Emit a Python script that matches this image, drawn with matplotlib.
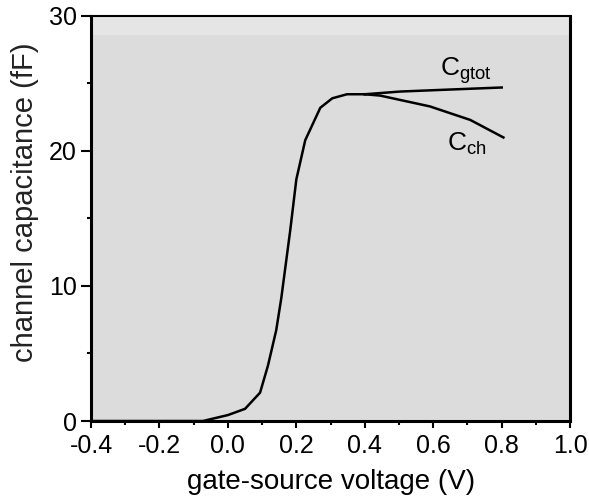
import matplotlib
matplotlib.use('Agg')
from matplotlib import pyplot as plt
from matplotlib.ticker import MultipleLocator

plt.rcParams['font.family'] = ['Liberation Sans', 'DejaVu Sans']

# shared rising part of the curve
v_rise = [-0.4, -0.073, 0.0, 0.05, 0.094, 0.117, 0.141, 0.156, 0.182, 0.2,
          0.226, 0.27, 0.305, 0.348, 0.40]
c_rise = [0.0, 0.0, 0.44, 0.9, 2.1, 4.1, 6.7, 9.1, 14.1, 17.9,
          20.8, 23.2, 23.9, 24.2, 24.2]

# total gate capacitance branch
v_gtot = [0.40, 0.503, 0.65, 0.80]
c_gtot = [24.2, 24.4, 24.55, 24.7]

# channel capacitance branch
v_ch = [0.40, 0.445, 0.59, 0.708, 0.805]
c_ch = [24.2, 24.1, 23.3, 22.3, 21.0]

fig = plt.figure(figsize=(5.89, 4.98), dpi=100)
ax = fig.add_axes([0.1545, 0.1546, 0.8135, 0.8134])
ax.set_facecolor('#dcdcdc')
ax.axhspan(28.6, 30, color='#e5e5e5', lw=0, zorder=0)

ax.plot(v_rise, c_rise, color='black', lw=1.8)
ax.plot(v_gtot, c_gtot, color='black', lw=1.8)
ax.plot(v_ch, c_ch, color='black', lw=1.8)

ax.text(0.62, 25.6, r'C$_\mathregular{gtot}$', fontsize=19)
ax.text(0.64, 20.0, r'C$_\mathregular{ch}$', fontsize=19)

ax.set_xlim(-0.4, 1.0)
ax.set_ylim(0, 30)
ax.xaxis.set_minor_locator(MultipleLocator(0.1))
ax.yaxis.set_major_locator(MultipleLocator(10))
ax.yaxis.set_minor_locator(MultipleLocator(5))
ax.set_xticks([-0.4, -0.2, 0.0, 0.2, 0.4, 0.6, 0.8, 1.0])
ax.set_xticklabels(['-0.4', '-0.2', '0.0', '0.2', '0.4', '0.6', '0.8', '1.0'])

ax.tick_params(which='major', direction='out', length=5, width=1.5, labelsize=18, pad=4)
ax.tick_params(axis='y', which='major', length=7, pad=3)
ax.tick_params(which='minor', direction='out', length=3, width=1.5)

for side in ['left', 'bottom', 'right']:
    ax.spines[side].set_linewidth(2.2)
ax.spines['top'].set_linewidth(1.5)

ax.set_xlabel('gate-source voltage (V)', fontsize=20, labelpad=8)
ax.set_ylabel('channel capacitance (fF)', fontsize=21, color='#222222')
ax.yaxis.set_label_coords(-0.108, 0.54)

fig.savefig('out.png', dpi=100)
